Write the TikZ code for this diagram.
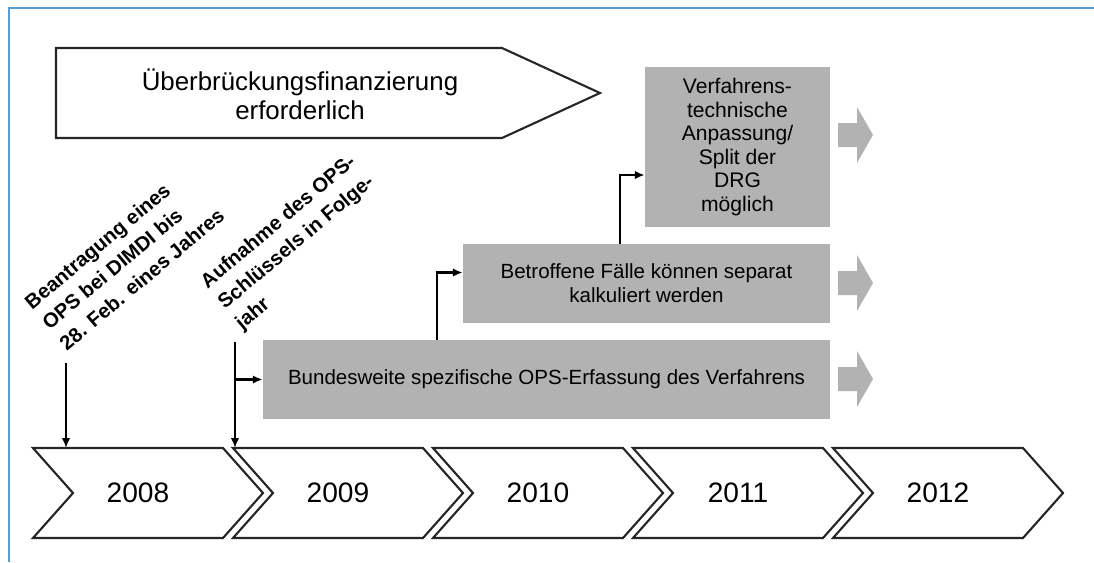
\documentclass[tikz,border=0pt]{standalone}
\usepackage{fontspec}
\setmainfont{Liberation Sans}
\usetikzlibrary{calc,arrows.meta}
\definecolor{frameblue}{RGB}{91,155,213}
\definecolor{boxgray}{RGB}{178,178,178}
\tikzset{
  conn/.style={line width=1.5pt, -{Latex[length=7pt,width=6pt]}},
  outline/.style={line width=1.5pt, draw=black!85},
  greybox/.style={fill=boxgray, inner sep=0pt, align=center, font=\fontsize{14.6}{17.2}\selectfont},
  note/.style={rotate=40, anchor=south west, align=left, inner sep=0pt, font=\fontsize{14.4}{19.2}\bfseries\selectfont}
}

\begin{document}
\begin{tikzpicture}[x=0.025cm,y=-0.025cm]
  \useasboundingbox (0,0) rectangle (1094,562);
  \draw[frameblue, line width=1.4pt] (1094,8) -- (9,8) -- (9,562);

  \draw[outline] (56,48) -- (502,48) -- (600,93) -- (502,138) -- (56,138) -- cycle;
  \node[align=center, font=\fontsize{18.4}{20.6}\selectfont] (bridge) at (300,94) {Überbrückungsfinanzierung\\erforderlich};

  \foreach[count=\i from 0] \yr in {2008,...,2012}{
    \draw[outline] (33+200*\i,448) -- ++(190,0) -- ++(40,45) -- ++(-40,45) -- ++(-190,0) -- ++(40,-45) -- cycle;
    \node[font=\fontsize{20}{24}\selectfont] (y\yr) at (138+200*\i,493) {\yr};
  }

  \node[greybox, minimum width=4.625cm, minimum height=4cm, font=\fontsize{15}{16.8}\selectfont] (adjust) at (737.5,147) {Verfahrens-\\technische\\Anpassung/\\Split der\\DRG\\möglich};
  \node[greybox, minimum width=9.175cm, minimum height=1.975cm] (separate) at (646.5,283.5) {Betroffene Fälle können separat\\kalkuliert werden};
  \node[greybox, minimum width=14.175cm, minimum height=1.975cm] (coding) at (546.5,379.5) {Bundesweite spezifische OPS-Erfassung des Verfahrens};

  \foreach \y in {135,283,379}{
    \fill[boxgray] (838,\y-12) -- (857,\y-12) -- (857,\y-28) -- (873,\y) -- (857,\y+28) -- (857,\y+12) -- (838,\y+12) -- cycle;
  }

  \node[note] (antrag) at (67,352) {Beantragung eines\\OPS bei DIMDI bis\\28. Feb. eines Jahres};
  \node[note] (aufnahme) at (245,334) {Aufnahme des OPS-\\Schlüssels in Folge-\\jahr};

  \coordinate (s2008) at (66,363);
  \coordinate (s2009) at (235,342);
  \coordinate (in2008) at (66,448);
  \coordinate (in2009) at (235,448);
  \draw[conn] (s2008) -- (in2008);
  \draw[conn] (s2009) -- (in2009);
  \draw[conn] (s2009 |- coding.west) -- (coding.west);
  \draw[conn] ($(coding.north west)+(174,0)$) |- ($(separate.west)+(0,-11)$);
  \draw[conn] ($(separate.north west)+(157,0)$) |- ($(adjust.west)+(0,28)$);
\end{tikzpicture}
\end{document}
